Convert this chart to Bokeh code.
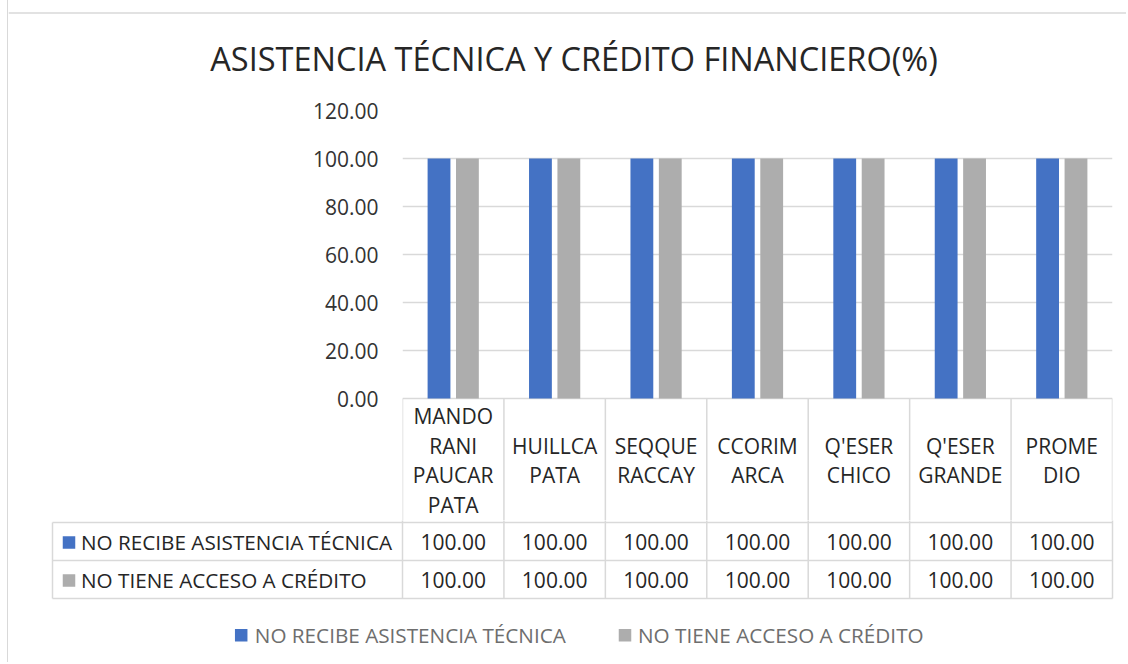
from bokeh.plotting import figure
from bokeh.layouts import column
from bokeh.models import ColumnDataSource, FactorRange, Range1d, FixedTicker, NumeralTickFormatter
from bokeh.transform import dodge
from bokeh.core.properties import value
from bokeh.embed import file_html
from bokeh.resources import INLINE

# ---------------- data ----------------
title_text = "ASISTENCIA TÉCNICA Y CRÉDITO FINANCIERO(%)"
categories = ["MANDO\nRANI\nPAUCAR\nPATA", "HUILLCA\nPATA", "SEQQUE\nRACCAY",
              "CCORIM\nARCA", "Q'ESER\nCHICO", "Q'ESER\nGRANDE", "PROME\nDIO"]
series_names = ["NO RECIBE ASISTENCIA TÉCNICA", "NO TIENE ACCESO A CRÉDITO"]
asistencia = [100.00, 100.00, 100.00, 100.00, 100.00, 100.00, 100.00]
credito = [100.00, 100.00, 100.00, 100.00, 100.00, 100.00, 100.00]
y_ticks = [0, 20, 40, 60, 80, 100, 120]

# ---------------- style ----------------
BLUE = "#4472C4"
GRAY = "#ADADAD"
GRID = "#d9d9d9"
BORDER = "#d9d9d9"
TXT = "#262626"
LEG = "#6e6e6e"
FONT = value("Open Sans")
FS = "21px"

PX0 = 8                     # page x of the canvases' left edge
WF = 1118                   # canvas width
FRAME_L, FRAME_R = 402, 1112
Y_ZERO, Y_TOP = 398, 110    # page y of value 0 and value 120
PPU = (Y_ZERO - Y_TOP) / 120.0
n = len(categories)
cw = (FRAME_R - FRAME_L) / n


def ux(px):
    return (px - FRAME_L) / cw


def vy(py):
    return (Y_ZERO - py) / PPU


common = dict(output_backend="svg", toolbar_location=None, width=WF)
wrap = {"margin-left": "7px", "border-left": "1px solid #d9d9d9"}

HEAD_TOP, ROW1, ROW2, BOT = 398, 522, 560, 598
T_END, A_END, B_END = 92, 520, 662

# ---------------- title ----------------
pT = figure(height=T_END, x_range=Range1d(PX0, PX0 + WF), y_range=Range1d(T_END, 0),
            x_axis_location=None, y_axis_location=None, min_border=0, **common)
pT.grid.visible = False
pT.outline_line_color = None
pT.segment(x0=[PX0], y0=[12.5], x1=[PX0 + WF], y1=[12.5],
           line_color=BORDER, line_width=1.5)
pT.text(x=[573.5], y=[58], text=[title_text], text_align="center",
        text_baseline="middle", text_font=FONT, text_font_size="32.5px",
        text_color=TXT)

# ---------------- chart (+ header row of the data table) ----------------
src = ColumnDataSource(dict(cat=categories, a=asistencia, c=credito))
pA = figure(height=A_END - T_END, x_range=FactorRange(factors=categories),
            y_range=Range1d(vy(A_END), 120), x_axis_location=None,
            min_border_left=FRAME_L - PX0, min_border_right=PX0 + WF - FRAME_R,
            min_border_top=Y_TOP - T_END, min_border_bottom=0, **common)
pA.vbar(x=dodge("cat", -0.14, range=pA.x_range), top="a", width=0.225,
        source=src, fill_color=BLUE, line_color=None)
pA.vbar(x=dodge("cat", 0.14, range=pA.x_range), top="c", width=0.225,
        source=src, fill_color=GRAY, line_color=None)
pA.yaxis.ticker = FixedTicker(ticks=y_ticks)
pA.yaxis.formatter = NumeralTickFormatter(format="0.00")
pA.yaxis.axis_line_color = None
pA.yaxis.major_tick_line_color = None
pA.yaxis.minor_tick_line_color = None
pA.yaxis.major_tick_out = 0
pA.yaxis.major_tick_in = 0
pA.yaxis.major_label_standoff = 24
pA.yaxis.major_label_text_font = "Open Sans"
pA.yaxis.major_label_text_font_size = FS
pA.yaxis.major_label_text_color = "#333333"
pA.ygrid.grid_line_color = GRID
pA.ygrid.grid_line_width = 1.3
pA.xgrid.grid_line_color = None
pA.outline_line_color = None

# header cell borders
pA.segment(x0=dodge("cat", -0.5, range=pA.x_range), y0=vy(HEAD_TOP),
           x1=dodge("cat", -0.5, range=pA.x_range), y1=vy(A_END + 2),
           source=src, line_color=GRID, line_width=1.5)
last = ColumnDataSource(dict(cat=categories[-1:]))
pA.segment(x0=dodge("cat", 0.5, range=pA.x_range), y0=vy(HEAD_TOP),
           x1=dodge("cat", 0.5, range=pA.x_range), y1=vy(A_END + 2),
           source=last, line_color=GRID, line_width=1.5)

# header labels
hx, hy, ht = [], [], []
hc = (HEAD_TOP + ROW1) / 2
for lab in categories:
    lines = lab.split("\n")
    m = len(lines)
    for k, t in enumerate(lines):
        hx.append(lab)
        hy.append(vy(hc + (k - (m - 1) / 2) * 29.5))
        ht.append(t)
pA.text(x=hx, y=hy, text=ht, text_align="center", text_baseline="middle",
        text_font=FONT, text_font_size=FS, text_color=TXT)

# ---------------- data rows + legend ----------------
pB = figure(height=B_END - A_END, x_range=Range1d(ux(PX0), ux(PX0 + WF)),
            y_range=Range1d(B_END, A_END), x_axis_location=None, y_axis_location=None,
            min_border=0, **common)
pB.grid.visible = False
pB.outline_line_color = None

lab_left = ux(52)
vx = list(range(n + 1))
pB.segment(x0=vx, y0=[A_END - 2] * len(vx), x1=vx, y1=[BOT] * len(vx),
           line_color=GRID, line_width=1.5)
pB.segment(x0=[lab_left], y0=[ROW1], x1=[lab_left], y1=[BOT],
           line_color=GRID, line_width=1.5)
pB.segment(x0=[lab_left] * 3, y0=[ROW1, ROW2, BOT], x1=[n] * 3, y1=[ROW1, ROW2, BOT],
           line_color=GRID, line_width=1.5)

r1c = (ROW1 + ROW2) / 2
r2c = (ROW2 + BOT) / 2
pB.text(x=[i + 0.5 for i in range(n)], y=[r1c] * n,
        text=["%.2f" % v for v in asistencia], text_align="center",
        text_baseline="middle", text_font=FONT, text_font_size=FS, text_color=TXT)
pB.text(x=[i + 0.5 for i in range(n)], y=[r2c] * n,
        text=["%.2f" % v for v in credito], text_align="center",
        text_baseline="middle", text_font=FONT, text_font_size=FS, text_color=TXT)

# row labels with keys
pB.rect(x=[ux(68.5)] * 2, y=[r1c + 1, r2c + 1], width=12.5, height=12.5,
        width_units="screen", height_units="screen",
        fill_color=[BLUE, GRAY], line_color=None)
pB.text(x=[ux(80.5)] * 2, y=[r1c, r2c], text=series_names,
        text_align="left", text_baseline="middle", text_font=FONT,
        text_font_size="20.7px", text_color=TXT)

# bottom legend
LEG_Y = 634.7
pB.rect(x=[ux(240.7), ux(624.5)], y=[LEG_Y, LEG_Y], width=12.5, height=12.5,
        width_units="screen", height_units="screen",
        fill_color=[BLUE, GRAY], line_color=None)
pB.text(x=[ux(254.3), ux(637.5)], y=[LEG_Y] * 2, text=series_names,
        text_align="left", text_baseline="middle", text_font=FONT,
        text_font_size="20.7px", text_color=LEG)

layout = column(column(pT, styles=wrap), column(pA, styles=wrap),
                column(pB, styles=wrap), spacing=0)

open("out.html", "w").write(file_html(layout, INLINE))
